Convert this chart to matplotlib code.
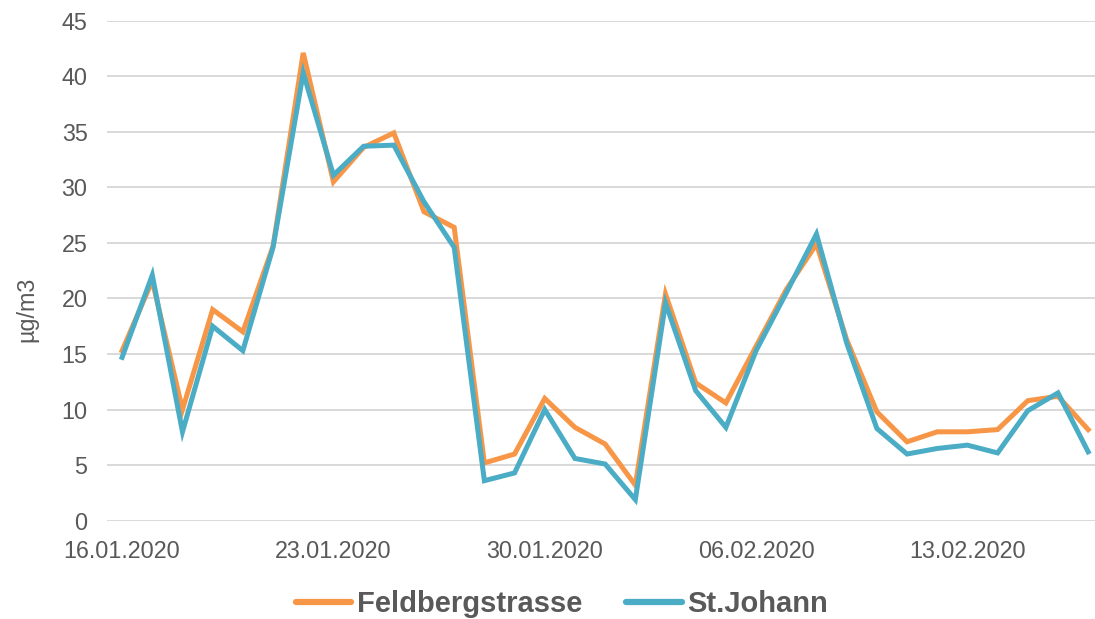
import pandas as pd
import matplotlib.pyplot as plt
import matplotlib.dates as mdates
from matplotlib.lines import Line2D

plt.rcParams['font.family'] = ['Liberation Sans', 'DejaVu Sans']

# %%
dates = pd.date_range("2020-01-16", "2020-02-17", freq="D")

feldberg = [15.3, 21.6, 10.0, 19.0, 17.0, 24.7, 42.1, 30.5, 33.6, 34.9,
            27.8, 26.4, 5.2, 6.0, 11.0, 8.4, 6.9, 3.2, 20.4, 12.4,
            10.6, 15.7, 20.8, 24.9, 16.3, 9.8, 7.1, 8.0, 8.0, 8.2,
            10.8, 11.2, 8.2]
johann = [14.7, 22.1, 8.0, 17.5, 15.3, 24.6, 40.3, 31.1, 33.7, 33.8,
          28.7, 24.6, 3.6, 4.3, 10.0, 5.6, 5.1, 1.9, 19.6, 11.7,
          8.4, 15.3, 20.5, 25.8, 16.0, 8.3, 6.0, 6.5, 6.8, 6.1,
          9.9, 11.5, 6.2]

series_names = ["Feldbergstrasse", "St.Johann"]
colors = ["#F79646", "#4BACC6"]
tick_dates = ["2020-01-16", "2020-01-23", "2020-01-30", "2020-02-06", "2020-02-13"]

# %%
W, H = 1095, 619
fig = plt.figure(figsize=(W / 100, H / 100), dpi=100)
ax = fig.add_axes([107 / W, 1 - 520.7 / H, (W - 107) / W, 500 / H])

ax.plot(dates, feldberg, color=colors[0], lw=3.6, solid_joinstyle="miter", zorder=3)
ax.plot(dates, johann, color=colors[1], lw=3.6, solid_joinstyle="miter", zorder=4)

x0 = dates[0] - pd.Timedelta(hours=12)
ax.set_xlim(x0, x0 + pd.Timedelta(days=(W - 107) / 30.19))
ax.set_ylim(0, 45)
ax.set_yticks(range(0, 46, 5))
ax.set_xticks(pd.to_datetime(tick_dates))
ax.xaxis.set_major_formatter(mdates.DateFormatter("%d.%m.%Y"))

ax.grid(axis="y", color="#D9D9D9", lw=1.4)
ax.set_axisbelow(True)
for s in ax.spines.values():
    s.set_visible(False)
ax.tick_params(length=0, labelsize=16.8, labelcolor="#595959")
ax.tick_params(axis="y", pad=14)
ax.tick_params(axis="x", pad=14)

fig.text(27 / W, 1 - 309 / H, "µg/m3", rotation=90, ha="center", va="center",
         fontsize=16.8, color="#595959")

handles = [Line2D([], [], color=c, lw=4.5, solid_capstyle="round") for c in colors]
fig.legend(handles, series_names, loc="center", bbox_to_anchor=(562 / W, 1 - 604 / H),
           ncol=2, frameon=False, handlelength=1.9, handletextpad=0.2,
           columnspacing=1.5, prop={"size": 21, "weight": "bold"},
           labelcolor="#595959")

fig.savefig("out.png", dpi=100)
